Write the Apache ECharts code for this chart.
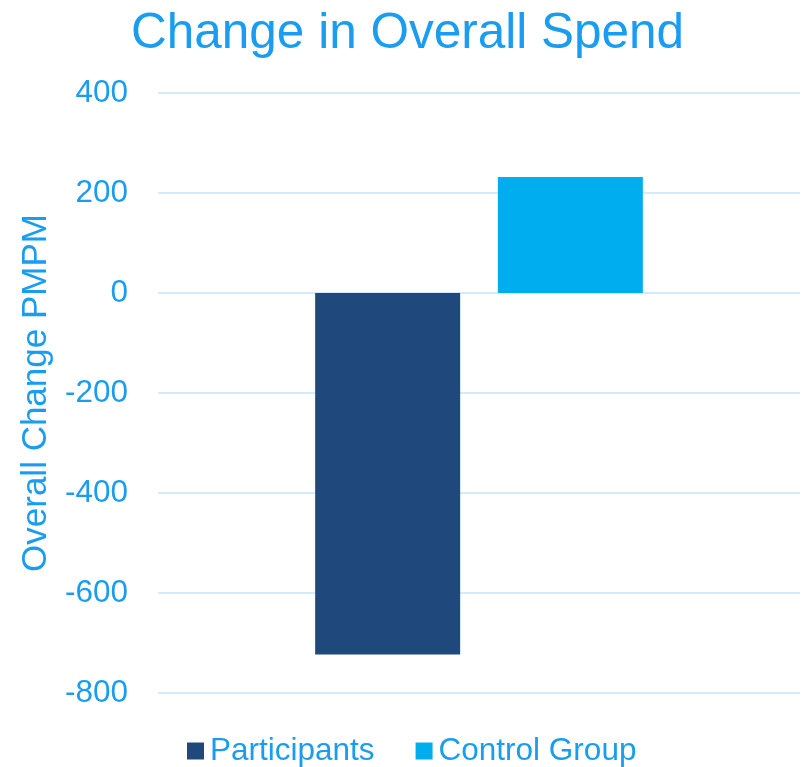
<!DOCTYPE html>
<html>
<head>
<meta charset="utf-8">
<script src="https://cdn.jsdelivr.net/npm/echarts@6/dist/echarts.min.js"></script>
<style>
  html, body { margin: 0; padding: 0; background: #fff; }
  #main { width: 804px; height: 767px; }
</style>
</head>
<body>
<div id="main"></div>
<script>
// data
var categories = [''];
var seriesNames = ['Participants', 'Control Group'];
var participants = [-723];
var controlGroup = [232];
var yTicks = { min: -800, max: 400, step: 200 };

var txt = '#1A9DF0';
var font = 'Liberation Sans, Arial, sans-serif';

var chart = echarts.init(document.getElementById('main'));
chart.setOption({
  animation: false,
  title: {
    text: 'Change in Overall Spend',
    left: 126,
    top: 4,
    textStyle: { color: txt, fontSize: 49.5, fontWeight: 'normal', fontFamily: font }
  },
  legend: {
    data: seriesNames,
    left: 182,
    top: 730,
    itemWidth: 17,
    itemHeight: 17,
    itemGap: 41,
    icon: 'rect',
    textStyle: { color: txt, fontSize: 31.5, fontFamily: font, padding: [0, 0, 0, 1] }
  },
  grid: { left: 158, right: 4, top: 93, bottom: 74, containLabel: false },
  xAxis: {
    type: 'category',
    data: categories,
    axisLine: { show: false },
    axisTick: { show: false },
    axisLabel: { show: false }
  },
  yAxis: {
    type: 'value',
    min: yTicks.min,
    max: yTicks.max,
    interval: yTicks.step,
    name: 'Overall Change PMPM',
    nameLocation: 'middle',
    nameRotate: 90,
    nameGap: 103,
    nameTextStyle: { color: txt, fontSize: 35, fontFamily: font },
    axisLine: { show: false },
    axisTick: { show: false },
    axisLabel: { color: txt, fontSize: 31.5, fontFamily: font, margin: 30 },
    splitLine: { lineStyle: { color: '#D6EBFA', width: 2 } }
  },
  series: [
    {
      name: seriesNames[0],
      type: 'bar',
      data: participants,
      barWidth: 145,
      barGap: '26%',
      itemStyle: { color: '#1F497D' }
    },
    {
      name: seriesNames[1],
      type: 'bar',
      data: controlGroup,
      barWidth: 145,
      itemStyle: { color: '#00AEEF' }
    }
  ]
});
</script>
</body>
</html>
